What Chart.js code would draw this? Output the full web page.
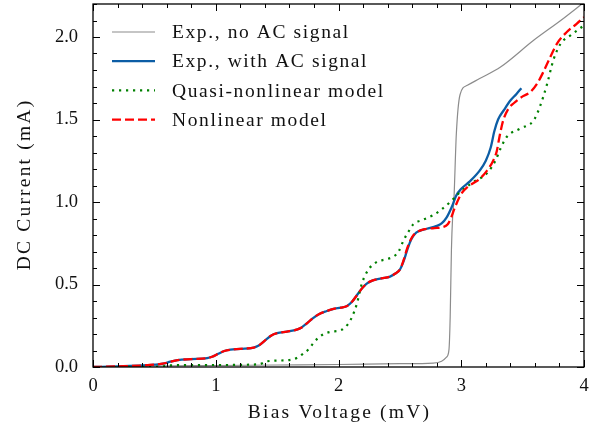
<!DOCTYPE html>
<html>
<head>
<meta charset="utf-8">
<script src="https://cdn.jsdelivr.net/npm/chart.js@4.4.1/dist/chart.umd.min.js"></script>
<style>
  html, body { margin: 0; padding: 0; background: #fff; }
  #wrap { width: 600px; height: 432px; }
</style>
</head>
<body>
<div id="wrap"><canvas id="ivChart" width="600" height="432"></canvas></div>
<script>
// Bias voltage (mV) / DC current (mA)
const noAcV = [0, 0.5, 1.0, 1.5, 2.0, 2.5, 2.77, 2.84, 2.88, 2.9, 2.91, 2.92, 2.93, 2.94, 2.96, 2.99, 3.05, 3.15, 3.32, 3.59, 3.81, 4.0];
const noAcI = [0, 0.006, 0.009, 0.012, 0.015, 0.02, 0.024, 0.035, 0.06, 0.105, 0.307, 0.71, 0.913, 1.01, 1.414, 1.65, 1.707, 1.748, 1.818, 1.98, 2.10, 2.21];

const withAcV = [0, 0.2, 0.4, 0.5, 0.57, 0.63, 0.69, 0.8, 0.93, 0.97, 1.02, 1.07, 1.12, 1.2, 1.31, 1.35, 1.4, 1.45, 1.5, 1.58, 1.66, 1.7, 1.74, 1.79, 1.84, 1.9, 1.96, 2.02, 2.07, 2.11, 2.15, 2.19, 2.23, 2.28, 2.35, 2.42, 2.46, 2.5, 2.53, 2.56, 2.59, 2.62, 2.66, 2.72, 2.8, 2.84, 2.88, 2.92, 2.96, 3.0, 3.07, 3.15, 3.2, 3.24, 3.27, 3.3, 3.35, 3.4, 3.45, 3.49];
const withAcI = [0, 0.004, 0.009, 0.014, 0.02, 0.032, 0.042, 0.048, 0.054, 0.062, 0.08, 0.097, 0.105, 0.11, 0.118, 0.13, 0.16, 0.19, 0.205, 0.215, 0.227, 0.24, 0.263, 0.295, 0.32, 0.338, 0.352, 0.36, 0.37, 0.395, 0.435, 0.475, 0.505, 0.525, 0.537, 0.548, 0.565, 0.59, 0.64, 0.71, 0.77, 0.805, 0.825, 0.838, 0.855, 0.87, 0.905, 0.965, 1.04, 1.08, 1.125, 1.19, 1.25, 1.33, 1.43, 1.5, 1.56, 1.615, 1.655, 1.69];

const quasiV = [0, 0.55, 0.62, 1.0, 1.35, 1.42, 1.6, 1.66, 1.72, 1.76, 1.8, 1.84, 1.88, 1.93, 2.03, 2.08, 2.11, 2.15, 2.19, 2.24, 2.31, 2.39, 2.45, 2.49, 2.53, 2.57, 2.61, 2.69, 2.77, 2.83, 2.91, 2.99, 3.1, 3.21, 3.28, 3.32, 3.37, 3.48, 3.59, 3.64, 3.7, 3.75, 3.81, 3.89, 4.0];
const quasiI = [0, 0.002, 0.01, 0.012, 0.016, 0.035, 0.042, 0.055, 0.085, 0.11, 0.15, 0.18, 0.2, 0.212, 0.227, 0.263, 0.303, 0.384, 0.505, 0.586, 0.636, 0.653, 0.67, 0.70, 0.768, 0.82, 0.865, 0.893, 0.92, 0.95, 1.0, 1.06, 1.121, 1.175, 1.253, 1.324, 1.394, 1.445, 1.495, 1.576, 1.717, 1.859, 1.96, 2.01, 2.07];

const nonlinV = [0, 0.2, 0.4, 0.5, 0.57, 0.63, 0.69, 0.8, 0.93, 0.97, 1.02, 1.07, 1.12, 1.2, 1.31, 1.35, 1.4, 1.45, 1.5, 1.58, 1.66, 1.7, 1.74, 1.79, 1.84, 1.9, 1.96, 2.02, 2.07, 2.11, 2.15, 2.19, 2.23, 2.28, 2.35, 2.42, 2.46, 2.5, 2.53, 2.56, 2.6, 2.64, 2.7, 2.78, 2.85, 2.89, 2.92, 2.95, 3.0, 3.05, 3.1, 3.15, 3.21, 3.26, 3.29, 3.31, 3.34, 3.38, 3.43, 3.5, 3.56, 3.62, 3.67, 3.72, 3.78, 3.86, 3.94, 4.0];
const nonlinI = [0, 0.004, 0.009, 0.014, 0.02, 0.032, 0.042, 0.048, 0.054, 0.062, 0.08, 0.097, 0.105, 0.11, 0.118, 0.13, 0.16, 0.19, 0.205, 0.215, 0.227, 0.24, 0.263, 0.295, 0.32, 0.338, 0.352, 0.36, 0.37, 0.395, 0.435, 0.475, 0.505, 0.525, 0.537, 0.548, 0.565, 0.59, 0.647, 0.72, 0.788, 0.818, 0.835, 0.842, 0.848, 0.865, 0.91, 0.97, 1.05, 1.09, 1.115, 1.14, 1.19, 1.25, 1.31, 1.39, 1.49, 1.56, 1.6, 1.64, 1.665, 1.72, 1.79, 1.87, 1.96, 2.03, 2.08, 2.12];

const seriesNames = ['Exp., no AC signal', 'Exp., with AC signal', 'Quasi-nonlinear model', 'Nonlinear model'];
const xTitle = 'Bias Voltage (mV)';
const yTitle = 'DC Current (mA)';
const xTicks = [0, 1, 2, 3, 4];
const yTicks = [0, 0.5, 1.0, 1.5, 2.0];

const FONT = '"Liberation Serif", "DejaVu Serif", serif';
const FSIZE = 18.5;

function pts(v, i) {
  return v.map((x, k) => ({ x: x, y: i[k] }));
}

// inward ticks on all four sides + frame, like the matplotlib style
const frameTicks = {
  id: 'frameTicks',
  afterDatasetsDraw(chart) {
    const { ctx, chartArea: a, scales } = chart;
    const xs = scales.x, ys = scales.y;
    ctx.save();
    ctx.strokeStyle = '#000';
    ctx.lineWidth = 1;
    ctx.beginPath();
    for (let k = 0; k <= 20; k++) {
      const v = k * 0.2;
      const len = (k % 5 === 0) ? 7 : 4;
      const px = Math.round(xs.getPixelForValue(v)) + 0.5;
      ctx.moveTo(px, a.bottom); ctx.lineTo(px, a.bottom - len);
      ctx.moveTo(px, a.top); ctx.lineTo(px, a.top + len);
    }
    for (let k = 0; k <= 22; k++) {
      const v = k * 0.1;
      const len = (k % 5 === 0) ? 7 : 4;
      const py = Math.round(ys.getPixelForValue(v)) + 0.5;
      ctx.moveTo(a.left, py); ctx.lineTo(a.left + len, py);
      ctx.moveTo(a.right, py); ctx.lineTo(a.right - len, py);
    }
    ctx.stroke();
    ctx.lineWidth = 1.3;
    ctx.strokeRect(a.left, a.top, a.right - a.left, a.bottom - a.top);
    ctx.restore();
  }
};

// legend without box (upper left) and the two axis titles, with wider letter spacing
const legendAndTitles = {
  id: 'legendAndTitles',
  afterDatasetsDraw(chart) {
    const ctx = chart.ctx;
    const a = chart.chartArea;
    ctx.save();
    ctx.font = '19.5px ' + FONT;
    ctx.letterSpacing = '1.6px';
    ctx.textBaseline = 'middle';
    ctx.fillStyle = '#111';
    chart.data.datasets.forEach((ds, i) => {
      const y = 32 + i * 29.2;
      ctx.strokeStyle = ds.borderColor;
      ctx.lineWidth = ds.borderWidth;
      ctx.setLineDash(ds.borderDash || []);
      ctx.beginPath();
      ctx.moveTo(112, y);
      ctx.lineTo(155, y);
      ctx.stroke();
      ctx.setLineDash([]);
      ctx.textAlign = 'left';
      ctx.fillText(ds.label, 172, y + 1);
    });
    ctx.letterSpacing = '2.2px';
    ctx.textAlign = 'center';
    ctx.fillText(xTitle, (a.left + a.right) / 2 + 1, 413);
    ctx.translate(25, (a.top + a.bottom) / 2);
    ctx.rotate(-Math.PI / 2);
    ctx.fillText(yTitle, 1, 0);
    ctx.restore();
  }
};

const ctx = document.getElementById('ivChart').getContext('2d');
new Chart(ctx, {
  type: 'line',
  data: {
    datasets: [
      {
        label: seriesNames[0],
        data: pts(noAcV, noAcI),
        borderColor: '#8c8c8c',
        borderWidth: 1.2,
        order: 4
      },
      {
        label: seriesNames[1],
        data: pts(withAcV, withAcI),
        borderColor: '#0C5DA5',
        borderWidth: 2.3,
        order: 3
      },
      {
        label: seriesNames[2],
        data: pts(quasiV, quasiI),
        borderColor: '#008000',
        borderWidth: 2.2,
        borderDash: [2.2, 4.8],
        order: 2
      },
      {
        label: seriesNames[3],
        data: pts(nonlinV, nonlinI),
        borderColor: '#ff0000',
        borderWidth: 2.3,
        borderDash: [9, 4],
        order: 1
      }
    ]
  },
  options: {
    responsive: false,
    animation: false,
    parsing: false,
    layout: { padding: { top: 4, right: 16, left: 0, bottom: 0 } },
    elements: {
      point: { radius: 0 },
      line: { cubicInterpolationMode: 'monotone', fill: false }
    },
    scales: {
      x: {
        type: 'linear',
        min: 0,
        max: 4,
        afterFit: s => { s.height = 65; s.paddingLeft = 0; s.paddingRight = 0; },
        afterBuildTicks: s => { s.ticks = xTicks.map(v => ({ value: v })); },
        grid: { display: false, drawTicks: false },
        border: { display: false },
        ticks: {
          padding: 8,
          color: '#111',
          font: { family: FONT, size: FSIZE },
          callback: v => String(v)
        },
        title: { display: false }
      },
      y: {
        type: 'linear',
        min: 0,
        max: 2.2,
        afterFit: s => { s.width = 93; s.paddingTop = 0; s.paddingBottom = 0; },
        afterBuildTicks: s => { s.ticks = yTicks.map(v => ({ value: v })); },
        grid: { display: false, drawTicks: false },
        border: { display: false },
        ticks: {
          padding: 15,
          color: '#111',
          font: { family: FONT, size: FSIZE },
          callback: v => Number(v).toFixed(1)
        },
        title: { display: false }
      }
    },
    plugins: {
      legend: { display: false },
      tooltip: { enabled: false }
    }
  },
  plugins: [frameTicks, legendAndTitles]
});
</script>
</body>
</html>
